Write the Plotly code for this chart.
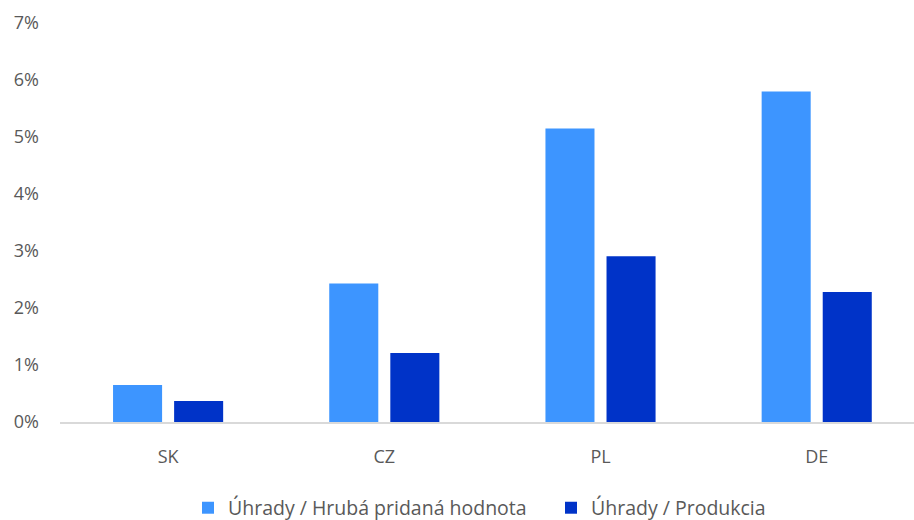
import plotly.graph_objects as go

# Country categories and the two ratio series (in percent)
countries = ["SK", "CZ", "PL", "DE"]
gva_ratio = [0.65, 2.43, 5.15, 5.80]        # Úhrady / Hrubá pridaná hodnota
output_ratio = [0.37, 1.21, 2.91, 2.28]     # Úhrady / Produkcia
y_ticks = [0, 1, 2, 3, 4, 5, 6, 7]
y_tick_labels = ["0%", "1%", "2%", "3%", "4%", "5%", "6%", "7%"]

LIGHT = "#3d95ff"
DARK = "#0033c8"
TEXT = "#595959"
FONT = "Segoe UI, Open Sans, Noto Sans, sans-serif"

fig = go.Figure()
fig.add_trace(go.Bar(
    x=countries, y=gva_ratio, name="Úhrady / Hrubá pridaná hodnota",
    marker=dict(color=LIGHT, line=dict(width=0)),
))
fig.add_trace(go.Bar(
    x=countries, y=output_ratio, name="Úhrady / Produkcia",
    marker=dict(color=DARK, line=dict(width=0)),
))

fig.update_layout(
    width=914, height=520,
    margin=dict(l=60, r=0, t=23, b=98),
    paper_bgcolor="white", plot_bgcolor="white",
    barmode="group", bargap=0.435, bargroupgap=0.197,
    font=dict(family=FONT, size=18, color=TEXT),
    showlegend=True,
    legend=dict(
        orientation="h", xref="paper", x=0.160, xanchor="left",
        yref="container", y=0.023, yanchor="middle",
        font=dict(size=19.5, color=TEXT), itemwidth=30,
        entrywidth=318, traceorder="normal",
    ),
    xaxis=dict(
        range=[-0.5, 3.45], showgrid=False, zeroline=False,
        showline=True, linecolor="#d9d9d9", linewidth=2,
        ticks="", ticklabelstandoff=17, tickfont=dict(size=18, color=TEXT),
    ),
    yaxis=dict(
        range=[0, 7], tickmode="array", tickvals=y_ticks, ticktext=y_tick_labels,
        showgrid=False, zeroline=False, showline=False,
        ticks="", ticklabelstandoff=20, tickfont=dict(size=18, color=TEXT),
    ),
)

fig.write_html("out.html")
